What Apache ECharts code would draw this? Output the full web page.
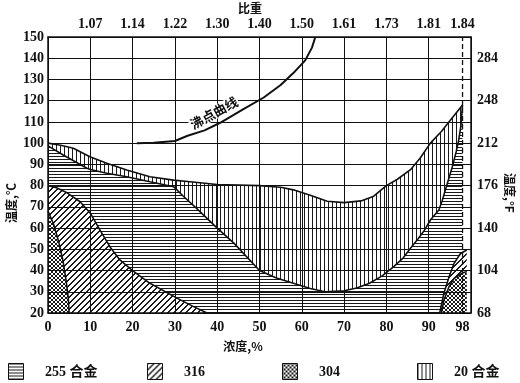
<!DOCTYPE html>
<html><head><meta charset="utf-8">
<script src="https://cdn.jsdelivr.net/npm/echarts@6/dist/echarts.min.js"></script>
<style>html,body{margin:0;padding:0;background:#fff}#c{width:520px;height:383px}</style>
</head><body><div id="c"></div>
<script>
// ---- axis ticks / labels ----
const concTicks = [0,10,20,30,40,50,60,70,80,90,98];
const gravityAt = [10,20,30,40,50,60,70,80,90,98];
const gravityLabels = ['1.07','1.14','1.22','1.30','1.40','1.50','1.61','1.73','1.81','1.84'];
const fahrenheitAt = [20,40,60,80,100,120,140];
const fahrenheitLabels = ['68','104','140','176','212','248','284'];
const concentratedLine = 98;

// ---- curves [concentration %, temperature °C] ----
const boilingCurve = [[21,100],[25,100.2],[30,101],[33,103.5],[37,106],[40.7,109.6],[46.2,116],[51,121.5],[55,127.4],[58,133],[60.8,139],[62.4,145],[63.2,150]];
const alloy20Upper = [[0,100],[3,99],[6,97.6],[9.9,93.6],[13.9,90.5],[18.6,87.4],[24.1,84.2],[29.7,82.6],[33.6,81.8],[40,80.5],[50,80],[55,79.2],[58,78],[62,75.5],[66,72.6],[70,72],[74,72.8],[77,75],[80,80],[82.6,83],[85.7,87.5],[88,93],[90.4,100],[93,105.5],[95.2,111],[98,118]];
const alloy255Limit = [[0,98.7],[3.6,94.4],[9.2,88.2],[10,87.6],[13.9,85.8],[18.6,84.2],[24.1,81.8],[29.7,79.5],[32,75],[35,69.5],[40,60],[44,52.8],[50,40],[54,36.5],[58,34],[62,31.5],[65.5,30],[70,30.5],[73,31.8],[76,34],[79,37.5],[81.6,41.6],[84,46],[85.7,50.5],[87.5,55],[89,59],[90.4,63.8],[92.4,68.5],[93.2,73],[94.4,81],[95.6,89],[96.5,96],[97.1,101.5],[97.6,108],[98,118]];
const s316LeftCurve = [[0,80],[2,79],[4.5,76.6],[7.6,72.4],[10,67],[12.3,59],[14.7,51],[17,45],[20,40],[24.1,34],[30.5,27],[34.4,23],[37.6,20]];
const s304LeftCurve = [[0,68],[1.3,62],[2.6,53],[3.6,44],[4.3,35],[4.8,27],[5,20]];
const s316RightCurve = [[92.6,20],[93.6,29.3],[94.8,37],[96,43.4],[97.5,48],[99,49.7]];
const s304RightCurve = [[93,20],[93.6,26],[94.8,32.4],[96,36.3],[97.9,38.7],[99,39.5]];
const legendNames = ['255 合金','316','304','20 合金'];

// ---- region polygons built from the curves ----
const region255 = [[0,20],[concentratedLine,20]].concat(alloy255Limit.slice().reverse());
const region20 = alloy20Upper.concat(alloy255Limit.slice().reverse());
const region316L = [[0,20]].concat(s316LeftCurve);
const region304L = [[0,20]].concat(s304LeftCurve);
const region316R = s316RightCurve.concat([[99,20]]);
const region304R = s304RightCurve.concat([[99,20]]);

function makePattern(kind){
  const c=document.createElement('canvas');
  const size={h:[4,3],v:[4,4],d:[6,6],x:[4,4]}[kind];
  c.width=size[0];c.height=size[1];
  const g=c.getContext('2d');
  g.fillStyle='#fff';g.fillRect(0,0,c.width,c.height);
  g.fillStyle='#1a1a1a';
  if(kind==='h') g.fillRect(0,0,c.width,1);
  if(kind==='v') g.fillRect(0,0,1,c.height);
  if(kind==='d'){for(let i=0;i<6;i++){g.fillRect(i,5-i,1,1);g.fillRect((i+1)%6,5-i,1,1);}}
  if(kind==='x'){for(let i=0;i<4;i++){g.fillRect(i,3-i,1,1);g.fillRect(i,i,1,1);}}
  return {image:c, repeat:'repeat'};
}
const pat = {h:makePattern('h'),v:makePattern('v'),d:makePattern('d'),x:makePattern('x')};

function fillSeries(pts, fill){
  return {type:'custom', coordinateSystem:'cartesian2d', data:pts, z:1, silent:true,
    renderItem:(params, api)=>{
      if(params.dataIndex!==0) return null;
      return {type:'polygon', shape:{points:pts.map(p=>api.coord(p))}, style:{fill:fill, stroke:null}};
    }};
}
function curveSeries(pts, w){
  return {type:'line', data:pts, z:3, symbol:'none', silent:true, smooth:false,
    lineStyle:{color:'#111', width:w||1.6}};
}

const serifBold = {fontFamily:"'Liberation Serif', 'Noto Sans CJK SC', serif", fontSize:14, fontWeight:'bold', color:'#111'};
const axisLineStyle = {show:true, onZero:false, lineStyle:{color:'#111', width:1.5}};

const chart = echarts.init(document.getElementById('c'), null, {renderer:'canvas'});
const legendX = [8,147,282,417];
const legendPat = [pat.h, pat.d, pat.x, pat.v];
const legendGraphics = [];
legendNames.forEach((n,i)=>{
  legendGraphics.push({type:'rect', left:legendX[i], top:363, shape:{width:15,height:16}, style:{fill:legendPat[i], stroke:'#111', lineWidth:1}});
  legendGraphics.push({type:'text', x:legendX[i]+37, y:372, style:{text:n, font:"bold 14px 'Liberation Serif', 'Noto Sans CJK SC', serif", fill:'#111', textVerticalAlign:'middle'}});
});

chart.setOption({
  animation:false,
  grid:{left:48, right:49, top:37, bottom:70, outerBoundsMode:'none'},
  xAxis:[
    {type:'value', min:0, max:100, interval:10, position:'bottom', z:5,
     axisLine:axisLineStyle, axisTick:{show:false},
     splitLine:{show:true, lineStyle:{color:'#111', width:1}},
     axisLabel:Object.assign({margin:7, customValues:concTicks}, serifBold)},
    {type:'value', min:0, max:100, interval:10, position:'top', z:5,
     axisLine:axisLineStyle, axisTick:{show:false}, splitLine:{show:false},
     axisLabel:Object.assign({margin:6, customValues:gravityAt, formatter:v=>gravityLabels[gravityAt.indexOf(v)]}, serifBold)}
  ],
  yAxis:[
    {type:'value', min:20, max:150, interval:10, position:'left', z:5,
     axisLine:axisLineStyle, axisTick:{show:false},
     splitLine:{show:true, lineStyle:{color:'#111', width:1}},
     axisLabel:Object.assign({margin:4}, serifBold)},
    {type:'value', min:20, max:150, interval:20, position:'right', z:5,
     axisLine:axisLineStyle, axisTick:{show:false}, splitLine:{show:false},
     axisLabel:Object.assign({margin:6, customValues:fahrenheitAt, formatter:v=>fahrenheitLabels[fahrenheitAt.indexOf(v)]}, serifBold)}
  ],
  series:[
    fillSeries(region255, pat.h),
    fillSeries(region20, pat.v),
    fillSeries(region316L, pat.d),
    fillSeries(region304L, pat.x),
    fillSeries(region316R, pat.d),
    fillSeries(region304R, pat.x),
    curveSeries(alloy20Upper),
    curveSeries(alloy255Limit),
    curveSeries(s316LeftCurve),
    curveSeries(s304LeftCurve),
    curveSeries(s316RightCurve),
    curveSeries(s304RightCurve),
    curveSeries(boilingCurve, 2),
    {type:'line', data:[[concentratedLine,20],[concentratedLine,150]], z:6, symbol:'none', silent:true,
     lineStyle:{color:'#111', width:1.3, type:[5,3]}}
  ],
  graphic:[
    {type:'text', x:250, y:8, z:10, style:{text:'比重', font:"bold 12px 'Noto Sans CJK SC'", fill:'#111', textAlign:'center', textVerticalAlign:'middle'}},
    {type:'text', x:11, y:203, rotation:Math.PI/2, z:10, style:{text:'温度,℃', font:"bold 12px 'Noto Sans CJK SC'", fill:'#111', textAlign:'center', textVerticalAlign:'middle'}},
    {type:'text', x:510, y:193, rotation:-Math.PI/2, z:10, style:{text:'温度,°F', font:"bold 12px 'Noto Sans CJK SC'", fill:'#111', textAlign:'center', textVerticalAlign:'middle'}},
    {type:'text', x:243, y:346, z:10, style:{text:'浓度,%', font:"bold 12px 'Noto Sans CJK SC'", fill:'#111', textAlign:'center', textVerticalAlign:'middle'}},
    {type:'text', x:214, y:113, rotation:0.5, z:10, style:{text:'沸点曲线', font:"bold 13px 'Noto Sans CJK SC'", fill:'#111', textAlign:'center', textVerticalAlign:'middle', backgroundColor:'#fff', padding:[0,1]}},
    ...legendGraphics
  ]
});
</script></body></html>
